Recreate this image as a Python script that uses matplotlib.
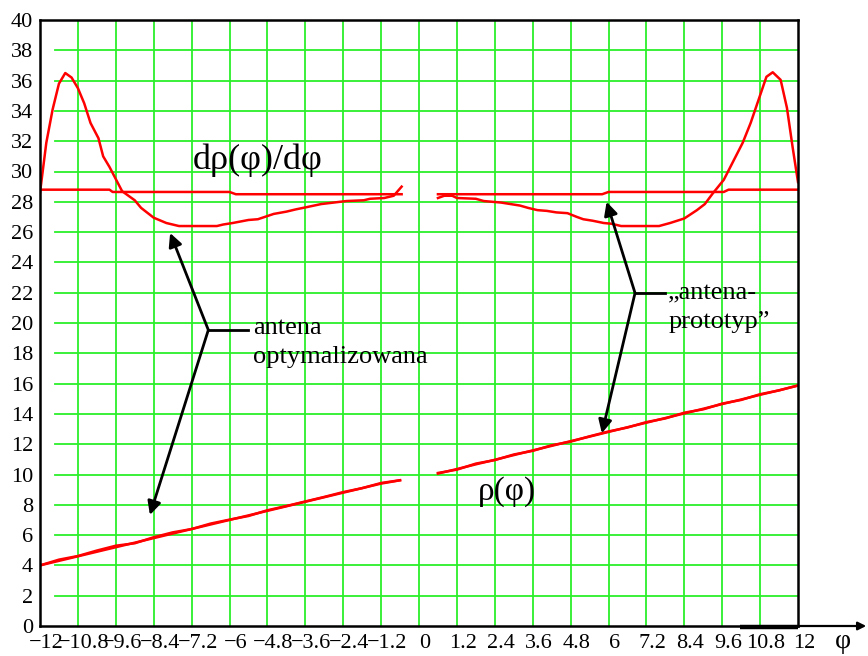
import matplotlib
matplotlib.use("Agg")
import matplotlib.pyplot as plt
from matplotlib.transforms import ScaledTranslation

plt.rcParams['font.family'] = ['Liberation Serif', 'DejaVu Serif']
plt.rcParams['axes.unicode_minus'] = True

# ---- data ---------------------------------------------------------------
x_ticks = [-12, -10.8, -9.6, -8.4, -7.2, -6, -4.8, -3.6, -2.4, -1.2, 0,
           1.2, 2.4, 3.6, 4.8, 6, 7.2, 8.4, 9.6, 10.8, 12]
x_tick_labels = ["−12", "−10.8", "−9.6", "−8.4", "−7.2", "−6", "−4.8", "−3.6",
                 "−2.4", "−1.2", "0", "1.2", "2.4", "3.6", "4.8", "6", "7.2",
                 "8.4", "9.6", "10.8", "12"]
y_ticks = list(range(0, 42, 2))

# rho(phi), negative branch
phi_left = [-12.0, -11.4, -10.8, -10.2, -9.6, -9.0, -8.4, -7.8, -7.2, -6.6,
            -6.0, -5.4, -4.8, -4.2, -3.6, -3.0, -2.4, -1.8, -1.2, -0.6]
rho_proto_left = [4.00, 4.30, 4.60, 4.90, 5.20, 5.50, 5.80, 6.10, 6.40, 6.70,
                  7.00, 7.30, 7.60, 7.90, 8.20, 8.50, 8.80, 9.10, 9.40, 9.62]
rho_opt_left = [4.00, 4.38, 4.62, 4.98, 5.30, 5.46, 5.86, 6.18, 6.40, 6.76,
                7.02, 7.26, 7.64, 7.92, 8.22, 8.52, 8.84, 9.10, 9.44, 9.62]

# rho(phi), positive branch
phi_right = [0.6, 1.2, 1.8, 2.4, 3.0, 3.6, 4.2, 4.8, 5.4, 6.0,
             6.6, 7.2, 7.8, 8.4, 9.0, 9.6, 10.2, 10.8, 11.4, 12.0]
rho_proto_right = [10.06, 10.36, 10.67, 10.97, 11.28, 11.59, 11.89, 12.20, 12.50, 12.81,
                   13.12, 13.42, 13.73, 14.03, 14.34, 14.65, 14.95, 15.26, 15.56, 15.87]
rho_opt_right = [10.10, 10.32, 10.72, 10.95, 11.32, 11.56, 11.93, 12.17, 12.52, 12.84,
                 13.10, 13.46, 13.70, 14.08, 14.30, 14.68, 14.92, 15.30, 15.55, 15.88]

# d rho / d phi, optimised antenna
dphi_opt_left = [-12.0, -11.8, -11.6, -11.4, -11.2, -11.0, -10.8, -10.6, -10.4,
                 -10.15, -10.0, -9.8, -9.6, -9.4, -9.0, -8.8, -8.4, -8.0, -7.6,
                 -6.4, -6.2, -5.9, -5.4, -5.1, -4.6, -4.2, -3.9, -3.55, -3.1,
                 -2.7, -2.3, -1.75, -1.55, -1.1, -0.8, -0.55]
drho_opt_left = [28.6, 31.9, 34.1, 35.8, 36.5, 36.2, 35.5, 34.5, 33.2,
                 32.2, 31.0, 30.3, 29.5, 28.7, 28.1, 27.6, 26.95, 26.6, 26.4,
                 26.4, 26.5, 26.6, 26.8, 26.85, 27.2, 27.35, 27.5, 27.65, 27.85,
                 27.95, 28.05, 28.1, 28.2, 28.25, 28.4, 29.0]
dphi_opt_right = [0.6, 0.8, 1.05, 1.2, 1.8, 2.05, 2.6, 2.9, 3.2, 3.45, 3.75,
                  4.05, 4.35, 4.7, 5.0, 5.2, 5.5, 5.85, 6.1, 6.4, 7.6, 7.95,
                  8.4, 8.8, 9.05, 9.3, 9.65, 10.25, 10.5, 11.0, 11.2, 11.45,
                  11.65, 11.83, 12.0]
drho_opt_right = [28.25, 28.4, 28.4, 28.25, 28.2, 28.05, 27.95, 27.85, 27.75, 27.6, 27.45,
                  27.4, 27.3, 27.25, 27.0, 26.85, 26.75, 26.6, 26.55, 26.4, 26.4, 26.6,
                  26.9, 27.45, 27.85, 28.55, 29.45, 31.9, 33.2, 36.25, 36.55, 36.05,
                  34.2, 31.6, 29.3]

# d rho / d phi, prototype antenna
dphi_proto_left = [-12.0, -9.8, -9.7, -6.0, -5.8, -0.55]
drho_proto_left = [28.8, 28.8, 28.65, 28.65, 28.5, 28.5]
dphi_proto_right = [0.6, 5.8, 6.0, 9.65, 9.8, 12.0]
drho_proto_right = [28.5, 28.5, 28.65, 28.65, 28.8, 28.8]

# ---- figure -------------------------------------------------------------
W, H = 868, 656
fig = plt.figure(figsize=(W / 100, H / 100), dpi=100)
ax = fig.add_axes([40 / W, 1 - 626 / H, (798 - 40) / W, (626 - 20) / H])
ax.set_xlim(-12, 12)
ax.set_ylim(0, 40)

grid_green = '#2bef2b'
for xv in x_ticks[1:-1]:
    ax.axvline(xv, color=grid_green, lw=1.3, zorder=1)
for yv in y_ticks[1:-1]:
    ax.axhline(yv, xmin=0.02, xmax=1.0, color=grid_green, lw=1.3, zorder=1)

red = '#ff0000'
lw = 1.8
ax.plot(phi_left, rho_proto_left, color=red, lw=lw, zorder=3)
ax.plot(phi_left, rho_opt_left, color=red, lw=lw, zorder=3)
ax.plot(phi_right, rho_proto_right, color=red, lw=lw, zorder=3)
ax.plot(phi_right, rho_opt_right, color=red, lw=lw, zorder=3)
ax.plot(dphi_opt_left, drho_opt_left, color=red, lw=lw, zorder=3)
ax.plot(dphi_opt_right, drho_opt_right, color=red, lw=lw, zorder=3)
ax.plot(dphi_proto_left, drho_proto_left, color=red, lw=lw, zorder=3)
ax.plot(dphi_proto_right, drho_proto_right, color=red, lw=lw, zorder=3)

ax.set_xticks(x_ticks)
ax.set_xticklabels(x_tick_labels)
ax.set_yticks(y_ticks)
ax.set_yticklabels([str(v) for v in y_ticks])
ax.tick_params(axis='both', length=0, labelsize=16)
ax.tick_params(axis='x', pad=6)
ax.tick_params(axis='y', pad=5)

# x tick labels sit a little to the right of their grid lines
shift = ScaledTranslation(6 / 100, 0, fig.dpi_scale_trans)
for lab in ax.get_xticklabels():
    lab.set_transform(lab.get_transform() + shift)

for side in ['left', 'right', 'top', 'bottom']:
    ax.spines[side].set_color('black')
    ax.spines[side].set_linewidth(1.8)
    ax.spines[side].set_zorder(5)

# phi axis continues past the frame with an arrow
ax.annotate('', xy=(1.09, 0.0), xytext=(1.0, 0.0), xycoords='axes fraction',
            textcoords='axes fraction',
            arrowprops=dict(arrowstyle='-|>', color='black', lw=1.6,
                            mutation_scale=12, shrinkA=0, shrinkB=0))
ax.plot([0.923, 1.0], [-0.002, -0.002], transform=ax.transAxes, color='black',
        lw=3.2, clip_on=False, solid_capstyle='butt', zorder=6)
fig.text(843 / W, 1 - 642 / H, 'φ', fontsize=20, ha='center', va='center')

# labels
ax.text(-7.16, 30.76, 'dρ(φ)/dφ', fontsize=26, ha='left', va='center')
ax.text(1.87, 8.85, 'ρ(φ)', fontsize=24, ha='left', va='center')
ax.text(-5.26, 19.67, 'antena', fontsize=19, ha='left', va='center')
ax.text(-5.26, 17.76, 'optymalizowana', fontsize=19, ha='left', va='center')
ax.text(7.89, 21.98, '„antena-', fontsize=19, ha='left', va='center')
ax.text(7.89, 20.07, 'prototyp”', fontsize=19, ha='left', va='center')

# callout arrows
arrow_kw = dict(arrowstyle='-|>', color='black', lw=2.0, mutation_scale=20,
                shrinkA=0, shrinkB=0)
opt_joint = (-6.67, 19.54)
ax.plot([opt_joint[0], -5.41], [opt_joint[1], opt_joint[1]], color='black', lw=2.0, zorder=4)
ax.annotate('', xy=(-7.88, 25.94), xytext=opt_joint, arrowprops=arrow_kw, zorder=4)
ax.annotate('', xy=(-8.52, 7.33), xytext=opt_joint, arrowprops=arrow_kw, zorder=4)

proto_joint = (6.84, 21.98)
ax.plot([proto_joint[0], 7.79], [proto_joint[1], proto_joint[1]], color='black', lw=2.0, zorder=4)
ax.annotate('', xy=(5.94, 28.0), xytext=proto_joint, arrowprops=arrow_kw, zorder=4)
ax.annotate('', xy=(5.79, 12.72), xytext=proto_joint, arrowprops=arrow_kw, zorder=4)

fig.savefig('out.png', dpi=100)
